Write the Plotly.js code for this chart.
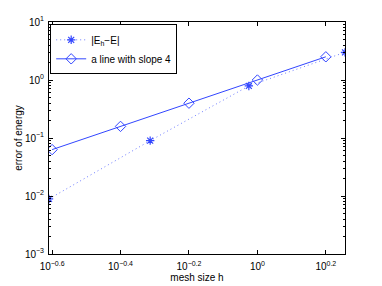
<!DOCTYPE html>
<html><head><meta charset="utf-8">
<script src="https://cdn.plot.ly/plotly-3.0.1.min.js"></script>
<style>html,body{margin:0;padding:0;background:#fff}#c{width:382px;height:286px}</style>
</head><body><div id="c"></div>
<script>
// data
const errH = [0.246, 0.486, 0.944, 1.803];
const errE = [0.0089, 0.090, 0.79, 3.0];
const refH = [0.2512, 0.3981, 0.6310, 1.0, 1.5849];
const refE = [0.0631, 0.1585, 0.3981, 1.0, 2.5119];
const xTickVals = [0.2512, 0.3981, 0.6310, 1.0, 1.5849];
const xTickText = ['10<sup>−0.6</sup>','10<sup>−0.4</sup>','10<sup>−0.2</sup>','10<sup>0</sup>','10<sup>0.2</sup>'];
const yTickVals = [0.001, 0.01, 0.1, 1, 10];
const yTickText = ['10<sup>−3</sup>','10<sup>−2</sup>','10<sup>−1</sup>','10<sup>0</sup>','10<sup>1</sup>'];
const names = ['|E<sub>h</sub>−E|', 'a line with slope 4'];

const minorY = [];
for (let d = -3; d < 1; d++) for (let k = 2; k <= 9; k++) minorY.push(k * Math.pow(10, d));

const blue = 'rgb(50,70,255)';
const font = {family: 'Liberation Sans, Arial, sans-serif', size: 10, color: '#000'};

const traces = [
  {x: errH, y: errE, name: names[0], mode: 'lines+markers', type: 'scatter',
   line: {color: 'rgb(110,125,255)', width: 1, dash: '1px,3px'},
   marker: {symbol: 'asterisk-open', size: 7, color: blue, line: {color: blue, width: 1.2}}},
  {x: refH, y: refE, name: names[1], mode: 'lines+markers', type: 'scatter',
   line: {color: blue, width: 1},
   marker: {symbol: 'diamond-open', size: 8, color: blue, line: {color: blue, width: 1}}}
];

const axCommon = {showgrid: false, zeroline: false, showline: true, linecolor: '#000', linewidth: 1,
  mirror: 'ticks', ticks: 'inside', ticklen: 4, tickcolor: '#000', tickfont: font};

const layout = {
  width: 382, height: 286, margin: {l: 49, r: 37, t: 22, b: 32},
  paper_bgcolor: '#fff', plot_bgcolor: '#fff', font: font, showlegend: true,
  xaxis: Object.assign({}, axCommon, {type: 'log', range: [Math.log10(errH[0]), Math.log10(errH[3])],
    tickmode: 'array', tickvals: xTickVals, ticktext: xTickText, ticklabelstandoff: 3,
    title: {text: 'mesh size h', font: font, standoff: 2}}),
  yaxis: Object.assign({}, axCommon, {type: 'log', range: [-3, 1],
    tickmode: 'array', tickvals: yTickVals, ticktext: yTickText, ticklabelstandoff: 2,
    minor: {tickmode: 'array', tickvals: minorY, ticks: 'inside', ticklen: 2, tickcolor: '#000'},
    title: {text: 'error of energy', font: font, standoff: 0}}),
  legend: {x: 0.004, y: 0.99, xanchor: 'left', yanchor: 'top', bgcolor: '#fff',
    bordercolor: '#000', borderwidth: 1, font: font, tracegroupgap: 0, itemwidth: 30}
};
Plotly.newPlot('c', traces, layout, {staticPlot: true});
</script></body></html>
